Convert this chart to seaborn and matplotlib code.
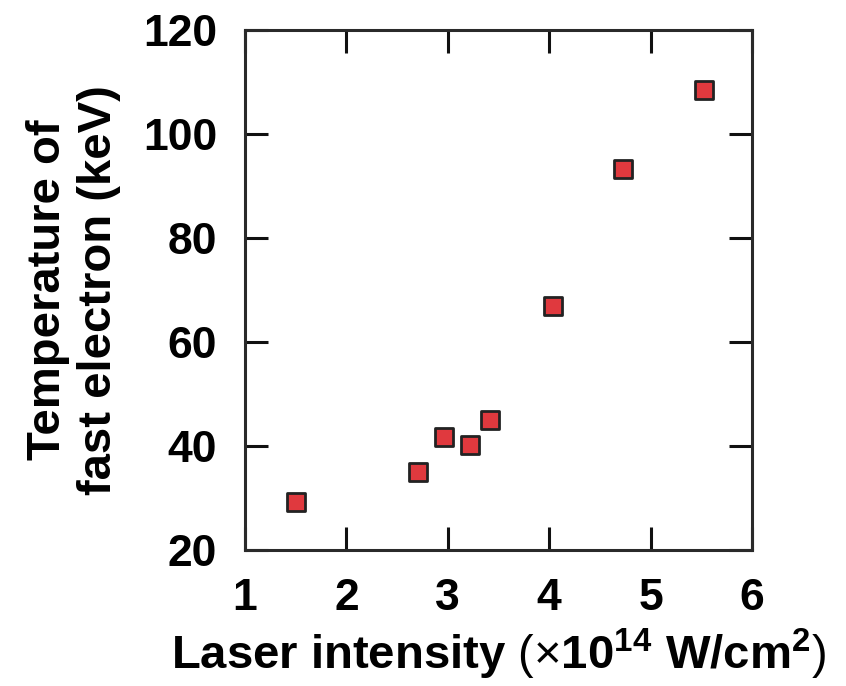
import matplotlib
matplotlib.use("Agg")
import matplotlib.pyplot as plt
import seaborn as sns
import pandas as pd

# data
laser_intensity = [1.50, 2.71, 2.96, 3.22, 3.42, 4.04, 4.73, 5.53]
temperature_kev = [29.3, 34.9, 41.7, 40.1, 44.9, 67.0, 93.3, 108.4]
x_ticks = [1, 2, 3, 4, 5, 6]
y_ticks = [20, 40, 60, 80, 100, 120]

sns.set_style("ticks")
plt.rcParams['font.family'] = ['Liberation Sans', 'DejaVu Sans']
plt.rcParams['mathtext.fontset'] = 'custom'
plt.rcParams['mathtext.rm'] = 'Liberation Sans'
plt.rcParams['mathtext.it'] = 'Liberation Sans:italic'
plt.rcParams['mathtext.bf'] = 'Liberation Sans:bold'
plt.rcParams['text.color'] = 'black'
plt.rcParams['axes.labelcolor'] = 'black'
plt.rcParams['xtick.color'] = 'black'
plt.rcParams['ytick.color'] = 'black'

df = pd.DataFrame({"x": laser_intensity, "y": temperature_kev})

fig = plt.figure(figsize=(8.46, 6.86), dpi=100)
ax = fig.add_axes([0.2896, 0.1983, 0.5993, 0.758])

sns.scatterplot(data=df, x="x", y="y", ax=ax, marker="s", s=160,
                color="#e0393e", edgecolor="#222222", linewidth=2.0, zorder=3)

ax.set_xlim(1, 6)
ax.set_ylim(20, 120)
ax.set_xticks(x_ticks)
ax.set_yticks(y_ticks)
ax.tick_params(axis="both", which="major", direction="in", length=16.5, width=2.2,
               color="#111111", top=True, right=True, labelsize=32)
ax.tick_params(axis="x", pad=20)
ax.tick_params(axis="y", pad=20)
for lab in ax.get_xticklabels() + ax.get_yticklabels():
    lab.set_fontweight("bold")
for sp in ax.spines.values():
    sp.set_linewidth(2.2)
    sp.set_color("#2a2a2a")

ax.set_xlabel(r"$\mathbf{Laser\ intensity}\ (\times\mathbf{10^{14}\ W/cm^{2}})$",
              fontsize=34, labelpad=6)
ax.set_ylabel("Temperature of\nfast electron (keV)", fontsize=34,
              fontweight="bold", labelpad=16, linespacing=1.2)

fig.savefig("out.png", dpi=100)
